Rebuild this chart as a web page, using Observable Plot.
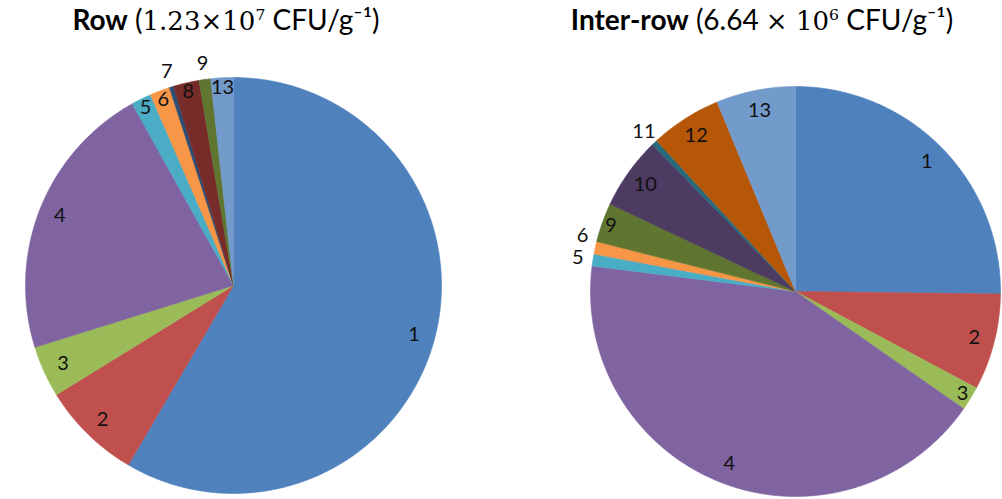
<!DOCTYPE html>
<html>
<head>
<meta charset="utf-8">
<script src="https://cdn.jsdelivr.net/npm/d3@7"></script>
<script src="https://cdn.jsdelivr.net/npm/@observablehq/plot@0.6"></script>
<style>
  body { margin: 0; background: #fff; }
  #wrap { position: relative; width: 1002px; height: 499px; overflow: hidden; }
  .title { position: absolute; top: 3px; font-family: Lato, "Open Sans", sans-serif; font-size: 28px; color: #000; white-space: nowrap; transform: translateX(-50%); line-height: 1.2; z-index: 2; }
  .title b { font-weight: 700; }
  .serif { font-family: "DejaVu Serif", "Liberation Serif", serif; font-size: 0.93em; }
  .title sup { font-size: 0.6em; line-height: 0; }
  #chart { position: absolute; left: 0; top: 0; }
</style>
</head>
<body>
<div id="wrap">
  <div id="chart"></div>
  <div class="title" style="left:226px"><b>Row</b> (<span class="serif">1.23×10<sup>7</sup></span> CFU/g⁻¹)</div>
  <div class="title" style="left:762px"><b>Inter-row</b> (6.64 <span class="serif">× 10<sup>6</sup></span> CFU/g⁻¹)</div>
</div>
<script>
// Categories (slice labels)
const categories = ["1","2","3","4","5","6","7","8","9","10","11","12","13"];
// Share (%) of each category
const rowValues      = [58.4, 7.75, 4.0, 21.7, 1.55, 1.55, 0.33, 2.0, 0.9, 0, 0, 0, 1.75];
const interRowValues = [25.2, 7.6, 1.9, 42.3, 0.94, 0.98, 0, 0, 3.1, 5.7, 0.44, 5.6, 6.25];
// Slice colours (Excel palette)
const colors = ["#4F81BD","#C0504D","#9BBB59","#8064A2","#4BACC6","#F79646",
                "#2C4D75","#772C2A","#5F7530","#4D3B62","#276A7C","#B65708","#729ACA"];

// Layout
const W = 1002, H = 499;
const pies = [
  {name: "Row", values: rowValues, cx: 233, cy: 285, r: 208},
  {name: "Inter-row", values: interRowValues, cx: 795, cy: 291, r: 205}
];

const polys = [];
const labels = [];
for (const p of pies) {
  const data = categories.map((c, i) => ({cat: c, value: p.values[i], color: colors[i]}));
  const total = d3.sum(data, d => d.value);
  const arcs = d3.pie().sort(null).value(d => d.value).startAngle(0).endAngle(2 * Math.PI)(data);
  const outside = [];
  for (const a of arcs) {
    if (a.data.value <= 0) continue;
    const id = p.name + "-" + a.data.cat;
    const n = Math.max(2, Math.ceil((a.endAngle - a.startAngle) / (Math.PI / 360)));
    polys.push({id, color: a.data.color, x: p.cx, y: p.cy});
    for (let k = 0; k <= n; k++) {
      const t = a.startAngle + (a.endAngle - a.startAngle) * k / n;
      polys.push({id, color: a.data.color, x: p.cx + p.r * Math.sin(t), y: p.cy - p.r * Math.cos(t)});
    }
    polys.push({id, color: a.data.color, x: p.cx, y: p.cy});
    const pct = 100 * a.data.value / total;
    let m = (a.startAngle + a.endAngle) / 2;
    if (pct < 1.0) {
      // outside label; nudge clockwise to avoid the previous outside label
      const f = 1.075;
      const pos = () => ({x: p.cx + p.r * f * Math.sin(m), y: p.cy - p.r * f * Math.cos(m)});
      let q = pos();
      const prev = outside[outside.length - 1];
      while (prev && Math.abs(q.y - prev.y) < 22 && Math.abs(q.x - prev.x) < 14) { m += Math.PI / 360; q = pos(); }
      outside.push(q);
      labels.push({text: a.data.cat, x: q.x, y: q.y});
    } else {
      const f = pct < 3.5 ? 0.955 : 0.9;
      labels.push({text: a.data.cat, x: p.cx + p.r * f * Math.sin(m), y: p.cy - p.r * f * Math.cos(m)});
    }
  }
}

const chart = Plot.plot({
  width: W,
  height: H,
  margin: 0,
  x: {domain: [0, W], range: [0, W], axis: null},
  y: {domain: [0, H], range: [0, H], axis: null},
  color: {type: "identity"},
  marks: [
    Plot.line(polys, {x: "x", y: "y", z: "id", fill: "color", stroke: "color", strokeWidth: 0.6, curve: "linear"}),
    Plot.text(labels, {x: "x", y: "y", text: "text", fill: "#111", fontSize: 20, fontFamily: "Lato, 'Open Sans', sans-serif"})
  ],
  style: {background: "transparent", overflow: "visible"}
});
document.getElementById("chart").appendChild(chart);
</script>
</body>
</html>
